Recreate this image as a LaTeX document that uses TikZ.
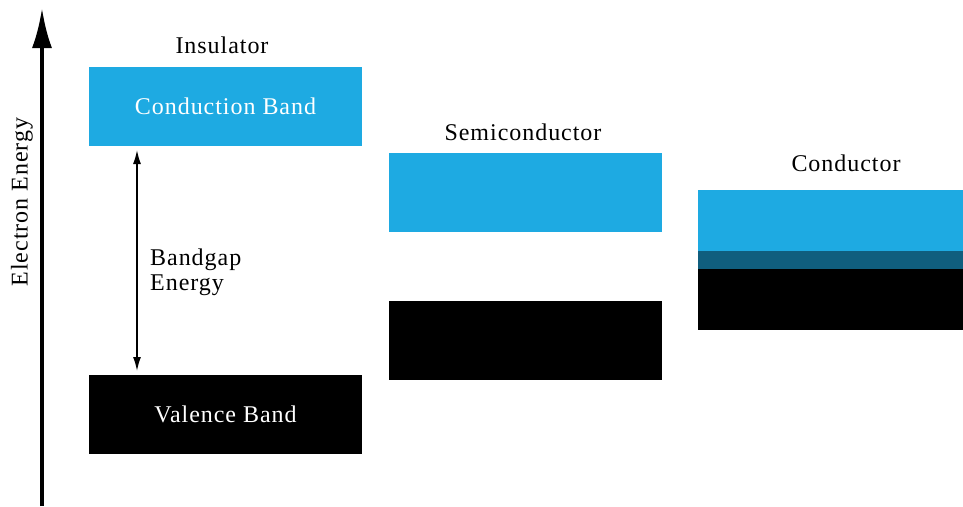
\documentclass[tikz,border=0pt]{standalone}
\usepackage{fontspec}
\setmainfont{Liberation Serif}[LetterSpace=4]
\usepackage{tikz}
\usetikzlibrary{arrows.meta}

\definecolor{bandblue}{RGB}{30,170,226}
\definecolor{bandmix}{RGB}{16,94,126}

\tikzset{
  band/.style={rectangle, inner sep=0pt, minimum width=273pt, minimum height=79pt, text=white},
  title/.style={inner sep=0pt, text=black}
}

\begin{document}
\begin{tikzpicture}
  [x=1pt,y=-1pt,every node/.style={font=\fontsize{24}{25}\selectfont}]
  \useasboundingbox (0,0) rectangle (963,506);

  %%%%%%%%%%%%%%%%%%%%%% AXIS %%%%%%%%%%%%%%%%%%%%%%

  \coordinate (axis_bot) at (42,506);
  \coordinate (axis_top) at (42,8);
  \draw[line width=4pt, -{Latex[length=40pt,width=20pt]}] (axis_bot) -- (axis_top);
  \node[title, rotate=90] (axis_lbl) at (22,202) {Electron Energy};

  %%%%%%%%%%%%%%%%%%%%%% INSULATOR %%%%%%%%%%%%%%%%%%%%%%

  \node[band, fill=bandblue] (ins_cb) at (225.5,106.5) {Conduction Band};
  \node[band, fill=black] (ins_vb) at (225.5,414) {Valence Band};
  \node[title] (ins_lbl) at (222,45) {Insulator};

  \coordinate (gap_top) at (137,150);
  \coordinate (gap_bot) at (137,371);
  \draw[line width=1.5pt, {Latex[length=14pt,width=8pt]}-{Latex[length=14pt,width=8pt]}] (gap_top) -- (gap_bot);
  \node[title, anchor=west, align=left] (gap_lbl) at (150,272) {Bandgap\\Energy};

  %%%%%%%%%%%%%%%%%%%%%% SEMICONDUCTOR %%%%%%%%%%%%%%%%%%%%%%

  \node[band, fill=bandblue] (semi_cb) at (525,192.5) {};
  \node[band, fill=black] (semi_vb) at (525,340.5) {};
  \node[title] (semi_lbl) at (523,132) {Semiconductor};

  %%%%%%%%%%%%%%%%%%%%%% CONDUCTOR %%%%%%%%%%%%%%%%%%%%%%

  \node[band, fill=bandblue, minimum width=265pt, minimum height=61pt] (cond_cb) at (830.5,220.5) {};
  \node[band, fill=bandmix, minimum width=265pt, minimum height=18pt] (cond_ov) at (830.5,260) {};
  \node[band, fill=black, minimum width=265pt, minimum height=61pt] (cond_vb) at (830.5,299.5) {};
  \node[title] (cond_lbl) at (846,163) {Conductor};

\end{tikzpicture}
\end{document}
